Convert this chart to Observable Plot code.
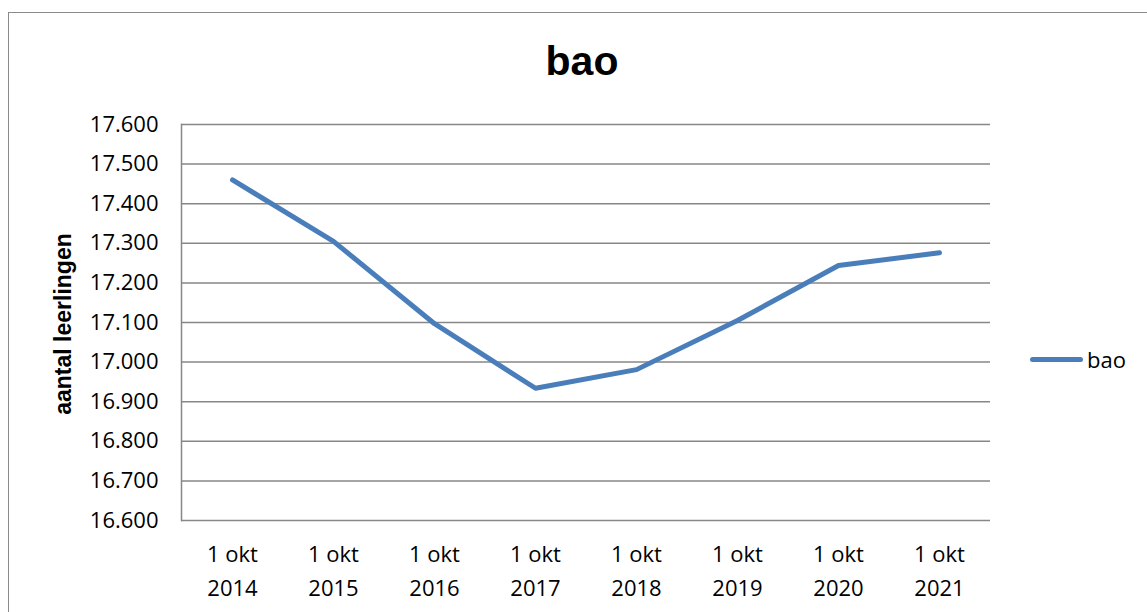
<!DOCTYPE html>
<html>
<head>
<meta charset="utf-8">
<script src="https://cdn.jsdelivr.net/npm/d3@7"></script>
<script src="https://cdn.jsdelivr.net/npm/@observablehq/plot@0.6"></script>
<style>
  html, body { margin: 0; padding: 0; background: #fff; }
  #wrap { position: relative; width: 1147px; height: 612px; overflow: hidden; font-family: "Open Sans", sans-serif; }
  #border { position: absolute; left: 8px; top: 12px; width: 1300px; height: 800px; border: 1.5px solid #8a8a8a; box-sizing: border-box; }
  #title { position: absolute; left: 0; width: 1164px; top: 41px; text-align: center; font-family: "Liberation Sans", sans-serif; font-weight: bold; font-size: 41px; line-height: 1; }
  #ylabel { position: absolute; left: 63px; top: 324px; transform: translate(-50%, -50%) rotate(-90deg); white-space: nowrap; font-family: "Liberation Sans", sans-serif; font-weight: bold; font-size: 23px; }
  #chart { position: absolute; left: 0; top: 0; }
  #legend { position: absolute; left: 1030px; top: 344px; display: flex; align-items: center; font-size: 22px; }
  #legend .sw { width: 53px; height: 5px; border-radius: 3px; background: #4a7ebb; margin-right: 4px; }
</style>
</head>
<body>
<div id="wrap">
  <div id="border"></div>
  <div id="title"></div>
  <div id="ylabel"></div>
  <div id="chart"></div>
  <div id="legend"><div class="sw"></div><span id="legtext"></span></div>
</div>
<script>
const title = "bao";
const yTitle = "aantal leerlingen";
const seriesName = "bao";
const years = ["2014", "2015", "2016", "2017", "2018", "2019", "2020", "2021"];
const categories = years.map(y => `1 okt\n${y}`);
const values = [17460, 17305, 17097, 16934, 16981, 17105, 17244, 17276];
const yTicks = [16600, 16700, 16800, 16900, 17000, 17100, 17200, 17300, 17400, 17500, 17600];

const data = categories.map((c, i) => ({cat: c, value: values[i]}));

document.getElementById("title").textContent = title;
document.getElementById("ylabel").textContent = yTitle;
document.getElementById("legtext").textContent = seriesName;

const fmt = d => d3.format(",.0f")(d).replace(/,/g, ".");

const chart = Plot.plot({
  width: 1147,
  height: 612,
  marginLeft: 181,
  marginRight: 157,
  marginTop: 124,
  marginBottom: 92,
  style: {fontFamily: "Open Sans, sans-serif", fontSize: "22px", color: "#000", background: "transparent", overflow: "visible"},
  x: {type: "point", domain: categories, padding: 0.5, label: null},
  y: {domain: [16600, 17600], label: null},
  marks: [
    Plot.gridY(yTicks, {stroke: "#878787", strokeOpacity: 1, strokeWidth: 1.5}),
    Plot.frame({anchor: "left", stroke: "#878787", strokeWidth: 1.5}),
    Plot.axisY(yTicks, {tickSize: 0, tickPadding: 23, tickFormat: fmt, fontSize: 22, label: null}),
    Plot.axisX({tickSize: 0, tickPadding: 17, lineHeight: 1.55, fontSize: 22, label: null}),
    Plot.line(data, {x: "cat", y: "value", stroke: "#4a7ebb", strokeWidth: 5, strokeLinejoin: "round", strokeLinecap: "round"})
  ]
});
document.getElementById("chart").appendChild(chart);
</script>
</body>
</html>
